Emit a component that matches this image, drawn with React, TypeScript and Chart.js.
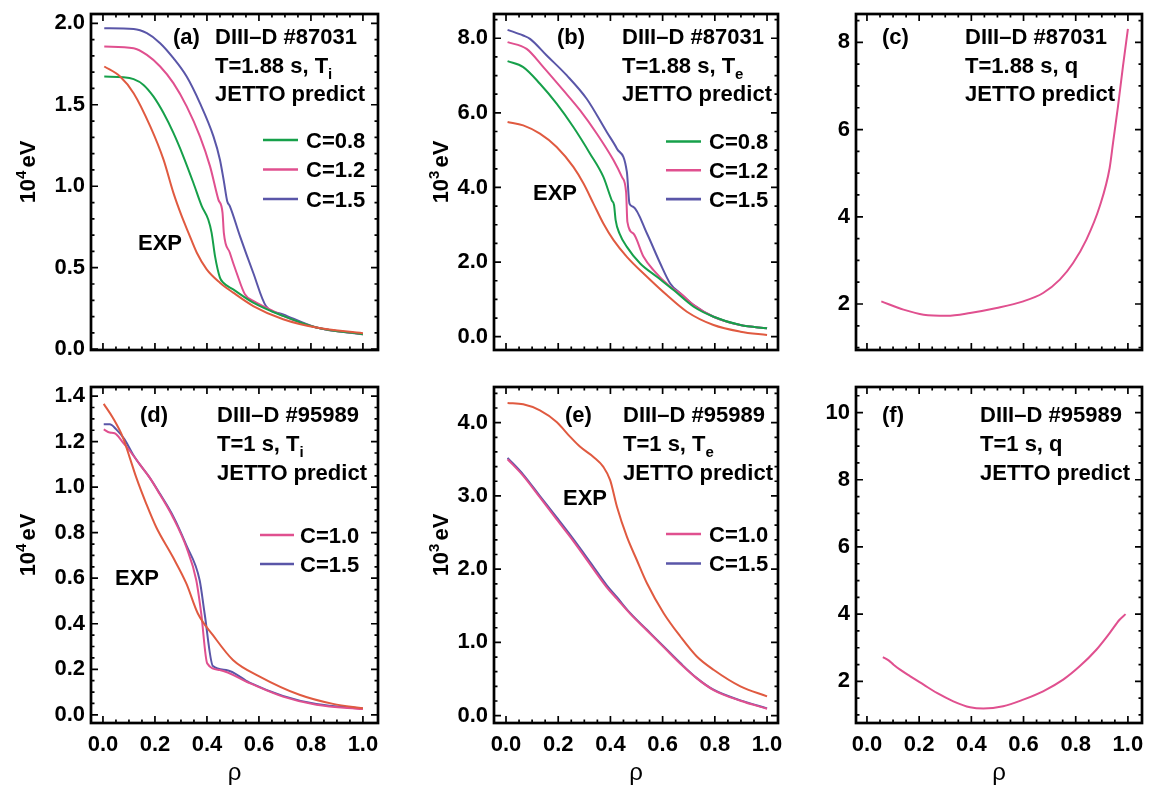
import React, { useEffect, useRef } from 'react';
import { Chart, registerables } from 'chart.js';
Chart.register(...registerables);

const FONT = "'Liberation Sans', Arial, Helvetica, sans-serif";
const C_EXP = '#e05a40';
const C_GREEN = '#16a04a';
const C_PINK = '#e0508f';
const C_PURPLE = '#5a56a8';

// ---------- common x ticks ----------
const xTicks = [0, 0.2, 0.4, 0.6, 0.8, 1.0];

// ---------- panel (a): Ti, #87031 ----------
const aExpRho = [0.005, 0.066, 0.118, 0.182, 0.233, 0.271, 0.303, 0.329, 0.361, 0.399, 0.45, 0.501, 0.578, 0.693, 0.821, 1.0];
const aExpVal = [1.735, 1.673, 1.571, 1.367, 1.163, 0.959, 0.816, 0.714, 0.592, 0.49, 0.408, 0.347, 0.265, 0.184, 0.133, 0.098];
const aC08Rho = [0.005, 0.079, 0.118, 0.156, 0.194, 0.233, 0.271, 0.309, 0.348, 0.38, 0.405, 0.418, 0.431, 0.45, 0.463, 0.501, 0.578, 0.693, 0.821, 1.0];
const aC08Val = [1.673, 1.669, 1.657, 1.622, 1.551, 1.449, 1.327, 1.184, 1.02, 0.878, 0.796, 0.714, 0.571, 0.439, 0.408, 0.367, 0.286, 0.204, 0.133, 0.092];
const aC12Rho = [0.005, 0.118, 0.169, 0.22, 0.271, 0.322, 0.373, 0.412, 0.444, 0.46, 0.465, 0.488, 0.514, 0.546, 0.578, 0.629, 0.693, 0.821, 1.0];
const aC12Val = [1.857, 1.847, 1.806, 1.735, 1.633, 1.49, 1.306, 1.122, 0.918, 0.837, 0.714, 0.592, 0.469, 0.337, 0.296, 0.255, 0.204, 0.133, 0.092];
const aC15Rho = [0.005, 0.118, 0.169, 0.22, 0.271, 0.322, 0.373, 0.425, 0.45, 0.465, 0.478, 0.488, 0.527, 0.578, 0.627, 0.693, 0.821, 1.0];
const aC15Val = [1.969, 1.965, 1.939, 1.878, 1.786, 1.673, 1.51, 1.306, 1.163, 1.031, 0.908, 0.878, 0.694, 0.469, 0.265, 0.214, 0.133, 0.092];
const aYTicks = [0.0, 0.5, 1.0, 1.5, 2.0];

// ---------- panel (b): Te, #87031 ----------
const bExpRho = [0.006, 0.066, 0.13, 0.194, 0.258, 0.297, 0.335, 0.373, 0.412, 0.463, 0.54, 0.616, 0.693, 0.795, 0.898, 1.0];
const bExpVal = [5.754, 5.665, 5.442, 5.085, 4.55, 4.104, 3.568, 3.033, 2.587, 2.141, 1.606, 1.115, 0.669, 0.312, 0.134, 0.045];
const bC08Rho = [0.006, 0.066, 0.13, 0.194, 0.258, 0.322, 0.373, 0.405, 0.414, 0.42, 0.435, 0.463, 0.514, 0.578, 0.642, 0.719, 0.795, 0.898, 1.0];
const bC08Val = [7.386, 7.226, 6.78, 6.245, 5.62, 4.906, 4.282, 3.657, 3.524, 3.122, 2.765, 2.408, 1.963, 1.606, 1.249, 0.803, 0.535, 0.312, 0.223];
const bC12Rho = [0.006, 0.079, 0.143, 0.22, 0.284, 0.348, 0.412, 0.444, 0.46, 0.465, 0.488, 0.527, 0.565, 0.629, 0.668, 0.719, 0.795, 0.898, 1.0];
const bC12Val = [7.895, 7.716, 7.226, 6.601, 6.066, 5.441, 4.728, 4.282, 3.88, 3.077, 2.765, 2.141, 1.784, 1.338, 1.16, 0.848, 0.535, 0.312, 0.223];
const bC15Rho = [0.006, 0.066, 0.092, 0.156, 0.233, 0.309, 0.386, 0.425, 0.463, 0.473, 0.488, 0.54, 0.591, 0.629, 0.668, 0.719, 0.795, 0.898, 1.0];
const bC15Val = [8.225, 8.073, 7.984, 7.538, 7.003, 6.378, 5.486, 5.04, 4.416, 3.568, 3.479, 2.765, 1.963, 1.427, 1.16, 0.848, 0.535, 0.312, 0.223];
const bYTicks = [0.0, 2.0, 4.0, 6.0, 8.0];

// ---------- panel (c): q, #87031 ----------
const cQRho = [0.055, 0.14, 0.217, 0.306, 0.395, 0.497, 0.599, 0.675, 0.739, 0.79, 0.841, 0.892, 0.93, 0.943, 0.962, 0.981, 1.0];
const cQVal = [2.061, 1.87, 1.755, 1.732, 1.794, 1.908, 2.061, 2.252, 2.558, 2.94, 3.476, 4.24, 5.119, 5.693, 6.534, 7.451, 8.307];
const cYTicks = [2, 4, 6, 8];

// ---------- panel (d): Ti, #95989 ----------
const dExpRho = [0.003, 0.038, 0.077, 0.103, 0.128, 0.167, 0.205, 0.269, 0.321, 0.365, 0.423, 0.5, 0.603, 0.756, 0.885, 1.0];
const dExpVal = [1.366, 1.305, 1.218, 1.13, 1.043, 0.926, 0.824, 0.693, 0.576, 0.445, 0.35, 0.241, 0.168, 0.088, 0.048, 0.029];
const dC10Rho = [0.003, 0.026, 0.045, 0.077, 0.103, 0.141, 0.179, 0.218, 0.269, 0.321, 0.359, 0.378, 0.401, 0.449, 0.564, 0.692, 0.821, 1.0];
const dC10Val = [1.254, 1.24, 1.237, 1.196, 1.16, 1.101, 1.043, 0.97, 0.868, 0.736, 0.591, 0.445, 0.226, 0.197, 0.139, 0.08, 0.044, 0.025];
const dC15Rho = [0.003, 0.026, 0.051, 0.083, 0.115, 0.141, 0.179, 0.218, 0.269, 0.321, 0.372, 0.391, 0.423, 0.474, 0.564, 0.692, 0.821, 1.0];
const dC15Val = [1.276, 1.276, 1.254, 1.21, 1.145, 1.101, 1.043, 0.973, 0.875, 0.744, 0.591, 0.445, 0.214, 0.197, 0.141, 0.083, 0.047, 0.028];
const dYTicks = [0.0, 0.2, 0.4, 0.6, 0.8, 1.0, 1.2, 1.4];

// ---------- panel (e): Te, #95989 ----------
const eExpRho = [0.006, 0.066, 0.13, 0.194, 0.246, 0.284, 0.335, 0.373, 0.399, 0.425, 0.463, 0.501, 0.54, 0.604, 0.668, 0.731, 0.795, 0.898, 1.0];
const eExpVal = [4.269, 4.251, 4.169, 4.01, 3.806, 3.67, 3.533, 3.397, 3.215, 2.852, 2.443, 2.125, 1.807, 1.399, 1.081, 0.808, 0.627, 0.4, 0.263];
const eC10Rho = [0.006, 0.066, 0.13, 0.194, 0.258, 0.322, 0.386, 0.425, 0.476, 0.54, 0.604, 0.668, 0.731, 0.795, 0.898, 1.0];
const eC10Val = [3.501, 3.274, 2.979, 2.679, 2.384, 2.066, 1.753, 1.594, 1.39, 1.163, 0.936, 0.709, 0.509, 0.35, 0.204, 0.095];
const eC15Rho = [0.006, 0.066, 0.13, 0.194, 0.258, 0.322, 0.386, 0.425, 0.476, 0.54, 0.604, 0.668, 0.731, 0.795, 0.898, 1.0];
const eC15Val = [3.52, 3.292, 2.997, 2.707, 2.411, 2.098, 1.78, 1.617, 1.399, 1.172, 0.945, 0.718, 0.513, 0.354, 0.209, 0.1];
const eYTicks = [0.0, 1.0, 2.0, 3.0, 4.0];

// ---------- panel (f): q, #95989 ----------
const fQRho = [0.061, 0.083, 0.102, 0.127, 0.166, 0.217, 0.268, 0.331, 0.395, 0.446, 0.522, 0.599, 0.675, 0.752, 0.815, 0.879, 0.93, 0.968, 0.991];
const fQVal = [2.723, 2.624, 2.495, 2.347, 2.149, 1.901, 1.653, 1.406, 1.228, 1.188, 1.257, 1.455, 1.703, 2.05, 2.446, 2.941, 3.436, 3.832, 4.0];
const fYTicks = [2, 4, 6, 8, 10];

type Seg = { t: string; sub?: boolean; sup?: boolean; gap?: number };
type Series = { rho: number[]; val: number[]; color: string; label?: string };

interface PanelCfg {
  box: { l: number; t: number; w: number; h: number };
  area: { l: number; r: number; t: number; b: number };
  xMin: number; xMax: number; yMin: number; yMax: number;
  yTicks: number[]; yDec: number; yMajor: number; yMinor: number;
  showX: boolean;
  series: Series[];
  tag: string; tagX: number; textX: number; lines: Seg[][]; lineY: number[];
  exp?: { x: number; y: number };
  legend?: { x0: number; x1: number; tx: number; y0: number; dy: number };
  yTitle?: { cx: number; cy: number; p: string };
}

function drawRich(ctx: CanvasRenderingContext2D, x: number, yCap: number, segs: Seg[], size: number, measureOnly = false) {
  const base = yCap + 0.358 * size;
  let cx = x;
  for (const s of segs) {
    cx += s.gap || 0;
    const small = s.sub || s.sup;
    const fs = small ? Math.round(size * 0.68) : size;
    ctx.font = `bold ${fs}px ${FONT}`;
    const dy = s.sub ? 0.3 * size : s.sup ? -0.42 * size : 0;
    if (!measureOnly) ctx.fillText(s.t, cx, base + dy);
    cx += ctx.measureText(s.t).width;
  }
  return cx - x;
}

function Panel({ cfg }: { cfg: PanelCfg }) {
  const ref = useRef<HTMLCanvasElement | null>(null);
  useEffect(() => {
    const c = cfg;
    const ox = c.box.l, oy = c.box.t;
    const padTop = c.area.t - oy;
    const padRight = ox + c.box.w - c.area.r;
    const yW = c.area.l - ox;
    const xH = oy + c.box.h - c.area.b;
    const FS = 22;

    const deco = {
      id: 'deco',
      afterDraw(chart: any) {
        const ctx: CanvasRenderingContext2D = chart.ctx;
        const xs = chart.scales.x, ys = chart.scales.y;
        const { left, right, top, bottom } = chart.chartArea;
        ctx.save();
        ctx.strokeStyle = '#000';
        ctx.lineCap = 'butt';
        // ticks
        ctx.lineWidth = 1.7;
        ctx.beginPath();
        for (let i = 0; i <= 20; i++) {
          const v = i * 0.05;
          const len = i % 4 === 0 ? 7 : 3.5;
          const px = xs.getPixelForValue(v);
          ctx.moveTo(px, bottom); ctx.lineTo(px, bottom - len);
          ctx.moveTo(px, top); ctx.lineTo(px, top + len);
        }
        const start = Math.ceil(c.yMin / c.yMinor - 1e-6);
        const end = Math.floor(c.yMax / c.yMinor + 1e-6);
        const ratio = Math.round(c.yMajor / c.yMinor);
        for (let k = start; k <= end; k++) {
          const v = k * c.yMinor;
          const len = k % ratio === 0 ? 7 : 3.5;
          const py = ys.getPixelForValue(v);
          ctx.moveTo(left, py); ctx.lineTo(left + len, py);
          ctx.moveTo(right, py); ctx.lineTo(right - len, py);
        }
        ctx.stroke();
        // frame
        ctx.lineWidth = 2.7;
        ctx.strokeRect(left, top, right - left, bottom - top);

        // annotation text
        ctx.fillStyle = '#000';
        ctx.textAlign = 'left';
        ctx.textBaseline = 'alphabetic';
        drawRich(ctx, c.tagX - ox, c.lineY[0] - oy, [{ t: c.tag }], FS);
        c.lines.forEach((segs, i) => drawRich(ctx, c.textX - ox, c.lineY[i] - oy, segs, FS));
        if (c.exp) drawRich(ctx, c.exp.x - ox, c.exp.y - oy, [{ t: 'EXP' }], FS);

        // legend
        if (c.legend) {
          const L = c.legend;
          let row = 0;
          chart.data.datasets.forEach((ds: any) => {
            if (ds.label === 'EXP' || ds.label === 'q') return;
            const y = L.y0 + row * L.dy - oy;
            ctx.strokeStyle = ds.borderColor;
            ctx.lineWidth = 2.6;
            ctx.beginPath();
            ctx.moveTo(L.x0 - ox, y); ctx.lineTo(L.x1 - ox, y);
            ctx.stroke();
            ctx.fillStyle = '#000';
            drawRich(ctx, L.tx - ox, y, [{ t: ds.label }], FS);
            row++;
          });
        }

        // y title (rotated, with superscript)
        if (c.yTitle) {
          const segs: Seg[] = [{ t: '10' }, { t: c.yTitle.p, sup: true }, { t: 'eV', gap: 3 }];
          ctx.save();
          ctx.translate(c.yTitle.cx - ox, c.yTitle.cy - oy);
          ctx.rotate(-Math.PI / 2);
          const w = drawRich(ctx, 0, 0, segs, FS, true);
          ctx.fillStyle = '#000';
          drawRich(ctx, -w / 2, 0, segs, FS);
          ctx.restore();
        }
        ctx.restore();
      },
    };

    const chart = new Chart(ref.current as HTMLCanvasElement, {
      type: 'line',
      data: {
        datasets: c.series.map((s) => ({
          label: s.label ?? 'EXP',
          data: s.rho.map((r, i) => ({ x: r, y: s.val[i] })),
          borderColor: s.color,
          backgroundColor: s.color,
          borderWidth: 2,
          pointRadius: 0,
          fill: false,
          cubicInterpolationMode: 'monotone' as const,
        })),
      },
      options: {
        animation: false,
        responsive: false,
        devicePixelRatio: 1,
        layout: { padding: { top: padTop, right: padRight, left: 0, bottom: 0 } },
        plugins: { legend: { display: false }, tooltip: { enabled: false } },
        scales: {
          x: {
            type: 'linear',
            min: c.xMin,
            max: c.xMax,
            grid: { display: false, drawTicks: false },
            border: { display: false },
            afterBuildTicks: (s: any) => { s.ticks = xTicks.map((v) => ({ value: v })); },
            ticks: {
              display: c.showX,
              padding: 9,
              color: '#000',
              autoSkip: false,
              maxRotation: 0,
              font: { family: FONT, size: FS, weight: 'bold' },
              callback: (v: any) => Number(v).toFixed(1),
            },
            title: {
              display: c.showX,
              text: 'ρ',
              color: '#000',
              font: { family: FONT, size: 24 },
              padding: { top: 0, bottom: 2 },
            },
            afterFit: (s: any) => { s.height = xH; s.paddingLeft = 0; s.paddingRight = 0; },
          },
          y: {
            type: 'linear',
            min: c.yMin,
            max: c.yMax,
            grid: { display: false, drawTicks: false },
            border: { display: false },
            afterBuildTicks: (s: any) => { s.ticks = c.yTicks.map((v) => ({ value: v })); },
            ticks: {
              padding: 6,
              color: '#000',
              autoSkip: false,
              font: { family: FONT, size: FS, weight: 'bold' },
              callback: (v: any) => Number(v).toFixed(c.yDec),
            },
            afterFit: (s: any) => { s.width = yW; s.paddingTop = 0; s.paddingBottom = 0; },
          },
        },
      } as any,
      plugins: [deco],
    });
    return () => chart.destroy();
  }, [cfg]);
  return (
    <canvas
      ref={ref}
      width={cfg.box.w}
      height={cfg.box.h}
      style={{ position: 'absolute', left: cfg.box.l, top: cfg.box.t, width: cfg.box.w, height: cfg.box.h }}
    />
  );
}

const COL = [{ l: 0, w: 392 }, { l: 392, w: 398 }, { l: 790, w: 361 }];
const ROW = [{ t: 0, h: 372 }, { t: 372, h: 418 }];
const AREA_X = [{ l: 91, r: 378 }, { l: 494, r: 778 }, { l: 856, r: 1142 }];
const AREA_Y = [{ t: 14, b: 350 }, { t: 387, b: 723 }];
const XR = [{ min: -0.046, max: 1.058 }, { min: -0.046, max: 1.042 }, { min: -0.042, max: 1.054 }];
const LINE_Y = [[36.5, 65, 93.5], [414, 443, 472]];

function box(col: number, row: number) {
  return { l: COL[col].l, t: ROW[row].t, w: COL[col].w, h: ROW[row].h };
}
function area(col: number, row: number) {
  return { l: AREA_X[col].l, r: AREA_X[col].r, t: AREA_Y[row].t, b: AREA_Y[row].b };
}

const panels: PanelCfg[] = [
  {
    box: box(0, 0), area: area(0, 0), xMin: XR[0].min, xMax: XR[0].max,
    yMin: -0.005, yMax: 2.057, yTicks: aYTicks, yDec: 1, yMajor: 0.5, yMinor: 0.1, showX: false,
    series: [
      { rho: aExpRho, val: aExpVal, color: C_EXP },
      { rho: aC08Rho, val: aC08Val, color: C_GREEN, label: 'C=0.8' },
      { rho: aC12Rho, val: aC12Val, color: C_PINK, label: 'C=1.2' },
      { rho: aC15Rho, val: aC15Val, color: C_PURPLE, label: 'C=1.5' },
    ],
    tag: '(a)', tagX: 173, textX: 215, lineY: LINE_Y[0],
    lines: [[{ t: 'DIII–D #87031' }], [{ t: 'T=1.88 s, T' }, { t: 'i', sub: true }], [{ t: 'JETTO predict' }]],
    exp: { x: 138, y: 242 },
    legend: { x0: 263, x1: 298, tx: 306, y0: 140, dy: 29.5 },
    yTitle: { cx: 27, cy: 172, p: '4' },
  },
  {
    box: box(1, 0), area: area(1, 0), xMin: XR[1].min, xMax: XR[1].max,
    yMin: -0.357, yMax: 8.65, yTicks: bYTicks, yDec: 1, yMajor: 2, yMinor: 0.5, showX: false,
    series: [
      { rho: bExpRho, val: bExpVal, color: C_EXP },
      { rho: bC08Rho, val: bC08Val, color: C_GREEN, label: 'C=0.8' },
      { rho: bC12Rho, val: bC12Val, color: C_PINK, label: 'C=1.2' },
      { rho: bC15Rho, val: bC15Val, color: C_PURPLE, label: 'C=1.5' },
    ],
    tag: '(b)', tagX: 557, textX: 622, lineY: LINE_Y[0],
    lines: [[{ t: 'DIII–D #87031' }], [{ t: 'T=1.88 s, T' }, { t: 'e', sub: true }], [{ t: 'JETTO predict' }]],
    exp: { x: 533, y: 192 },
    legend: { x0: 666, x1: 701, tx: 709, y0: 141.5, dy: 28.8 },
    yTitle: { cx: 440, cy: 172, p: '3' },
  },
  {
    box: box(2, 0), area: area(2, 0), xMin: XR[2].min, xMax: XR[2].max,
    yMin: 0.945, yMax: 8.65, yTicks: cYTicks, yDec: 0, yMajor: 2, yMinor: 0.5, showX: false,
    series: [{ rho: cQRho, val: cQVal, color: C_PINK, label: 'q' }],
    tag: '(c)', tagX: 882, textX: 965, lineY: LINE_Y[0],
    lines: [[{ t: 'DIII–D #87031' }], [{ t: 'T=1.88 s, q' }], [{ t: 'JETTO predict' }]],
  },
  {
    box: box(0, 1), area: area(0, 1), xMin: XR[0].min, xMax: XR[0].max,
    yMin: -0.036, yMax: 1.44, yTicks: dYTicks, yDec: 1, yMajor: 0.2, yMinor: 0.05, showX: true,
    series: [
      { rho: dExpRho, val: dExpVal, color: C_EXP },
      { rho: dC10Rho, val: dC10Val, color: C_PINK, label: 'C=1.0' },
      { rho: dC15Rho, val: dC15Val, color: C_PURPLE, label: 'C=1.5' },
    ],
    tag: '(d)', tagX: 140, textX: 217, lineY: LINE_Y[1],
    lines: [[{ t: 'DIII–D #95989' }], [{ t: 'T=1 s, T' }, { t: 'i', sub: true }], [{ t: 'JETTO predict' }]],
    exp: { x: 115, y: 577 },
    legend: { x0: 260, x1: 294, tx: 300, y0: 535, dy: 29 },
    yTitle: { cx: 27, cy: 545, p: '4' },
  },
  {
    box: box(1, 1), area: area(1, 1), xMin: XR[1].min, xMax: XR[1].max,
    yMin: -0.1, yMax: 4.487, yTicks: eYTicks, yDec: 1, yMajor: 1, yMinor: 0.2, showX: true,
    series: [
      { rho: eExpRho, val: eExpVal, color: C_EXP },
      { rho: eC10Rho, val: eC10Val, color: C_PINK, label: 'C=1.0' },
      { rho: eC15Rho, val: eC15Val, color: C_PURPLE, label: 'C=1.5' },
    ],
    tag: '(e)', tagX: 565, textX: 623, lineY: LINE_Y[1],
    lines: [[{ t: 'DIII–D #95989' }], [{ t: 'T=1 s, T' }, { t: 'e', sub: true }], [{ t: 'JETTO predict' }]],
    exp: { x: 563, y: 497 },
    legend: { x0: 666, x1: 701, tx: 709, y0: 534, dy: 29.5 },
    yTitle: { cx: 440, cy: 545, p: '3' },
  },
  {
    box: box(2, 1), area: area(2, 1), xMin: XR[2].min, xMax: XR[2].max,
    yMin: 0.76, yMax: 10.76, yTicks: fYTicks, yDec: 0, yMajor: 2, yMinor: 0.5, showX: true,
    series: [{ rho: fQRho, val: fQVal, color: C_PINK, label: 'q' }],
    tag: '(f)', tagX: 882, textX: 980, lineY: LINE_Y[1],
    lines: [[{ t: 'DIII–D #95989' }], [{ t: 'T=1 s, q' }], [{ t: 'JETTO predict' }]],
  },
];

export default function App() {
  return (
    <div style={{ position: 'fixed', left: 0, top: 0, width: 1151, height: 790, background: '#fff', overflow: 'hidden' }}>
      {panels.map((p, i) => (
        <Panel key={i} cfg={p} />
      ))}
    </div>
  );
}
